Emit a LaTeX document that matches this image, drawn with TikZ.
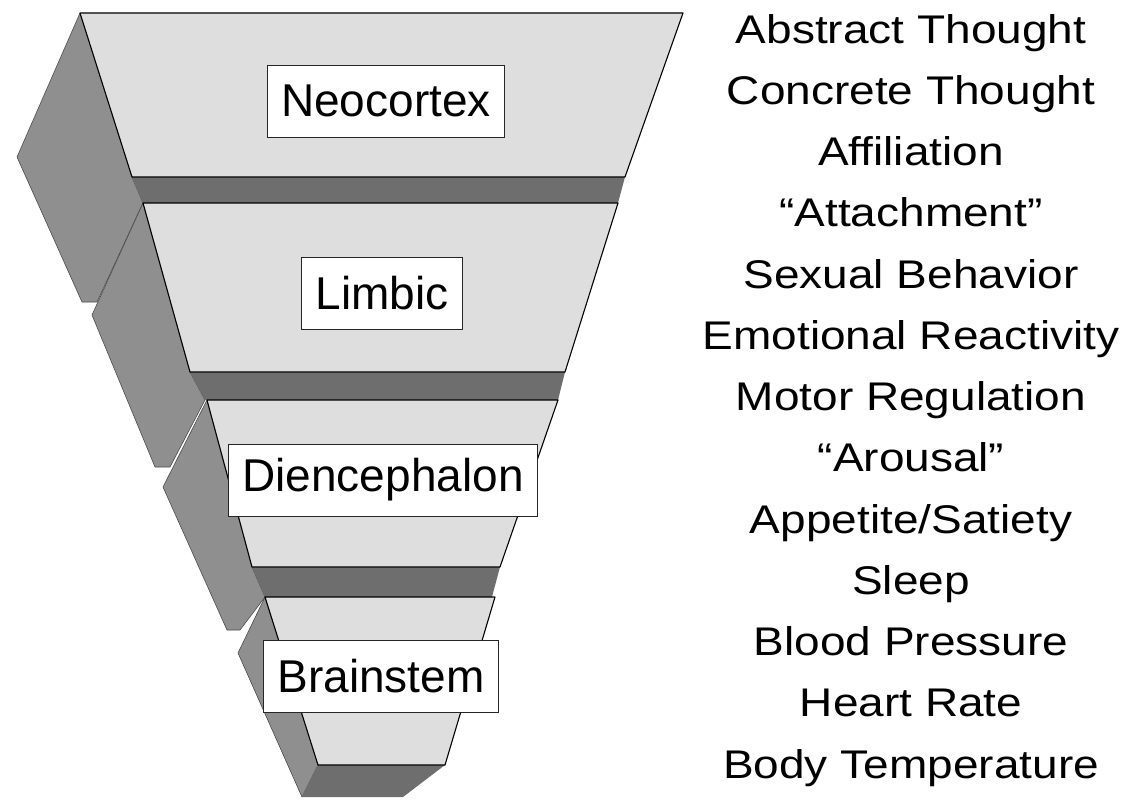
\documentclass[tikz,border=0pt]{standalone}
\usepackage{fontspec}
\setmainfont{Liberation Sans}
\newfontfamily\widefont[FakeStretch=1.15]{Liberation Sans}
\usetikzlibrary{positioning}
\definecolor{facegray}{gray}{0.87}
\definecolor{sidegray}{gray}{0.56}
\definecolor{bandgray}{gray}{0.43}

\begin{document}
\begin{tikzpicture}[x=1pt,y=-1pt,
  face/.style={fill=facegray,draw=black,line width=1.1pt,line join=round},
  side/.style={fill=sidegray,draw=black!70,line width=0.6pt,line join=round},
  band/.style={fill=bandgray,draw=none},
  tag/.style={draw=black!85,line width=0.9pt,fill=white,inner xsep=14pt,minimum height=72pt,
    font=\fontsize{46}{50}\selectfont},
  funcs/.style={align=center,inner sep=0pt,font=\widefont\fontsize{40}{61.25}\selectfont}]
\useasboundingbox (0,0) rectangle (1127,800);
% left side faces, top slab first
\draw[side] (80,13) -- (17,157) -- (82,302) -- (97,302) -- (143,203) -- (132,177) -- cycle;
\draw[side] (143,203) -- (92,315) -- (155,467) -- (170,467) -- (205,400) -- (190,372) -- cycle;
\draw[side] (207,400) -- (163,487) -- (227,630) -- (240,630) -- (265,597) -- (252,567) -- cycle;
\draw[side] (265,597) -- (238,653) -- (302,797) -- (318,765) -- cycle;
% dark bands under the slabs
\fill[band] (132,177) -- (625,177) -- (618,203) -- (143,203) -- cycle;
\fill[band] (190,372) -- (565,372) -- (558,400) -- (205,400) -- cycle;
\fill[band] (252,567) -- (500,567) -- (492,597) -- (265,597) -- cycle;
\fill[band] (318,765) -- (445,765) -- (403,797) -- (302,797) -- cycle;
% front faces
\draw[face] (80,13) -- (683,13) -- (625,177) -- (132,177) -- cycle;
\draw[face] (143,203) -- (618,203) -- (565,372) -- (190,372) -- cycle;
\draw[face] (207,400) -- (558,400) -- (500,567) -- (252,567) -- cycle;
\draw[face] (265,597) -- (495,597) -- (445,765) -- (318,765) -- cycle;
% labels
\node[tag] (neo) at (386,101) {Neocortex};
\node[tag] (limbic) at (382,293) {Limbic};
\node[tag] (dien) at (383,480) {Diencephalon};
\node[tag] (brain) at (381,676) {Brainstem};
% functions (base = last line)
\node[funcs,anchor=base] (funcs) at (911,778) {Abstract Thought\\Concrete Thought\\Affiliation\\“Attachment”\\Sexual Behavior\\Emotional Reactivity\\Motor Regulation\\“Arousal”\\Appetite/Satiety\\Sleep\\Blood Pressure\\Heart Rate\\Body Temperature};
\end{tikzpicture}
\end{document}
